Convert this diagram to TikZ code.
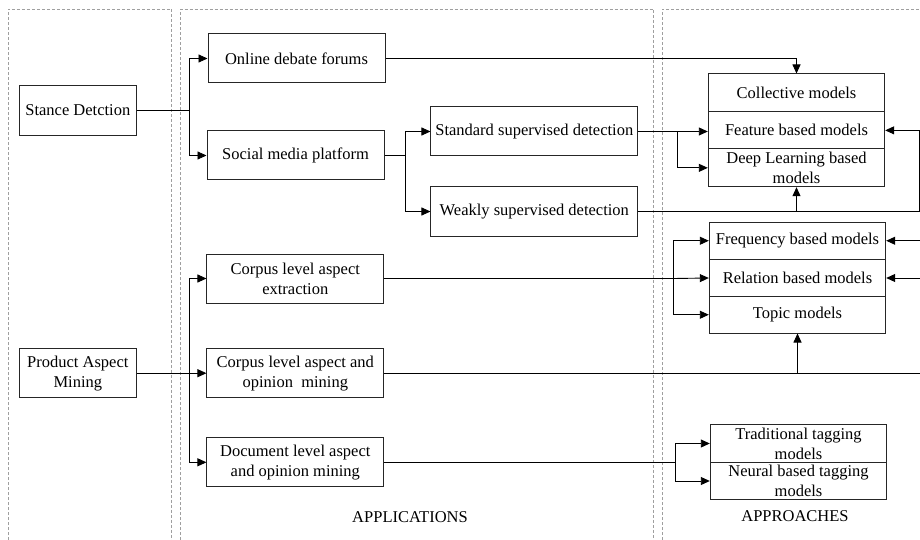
\documentclass[tikz,border=0pt]{standalone}
\usepackage{fontspec}
\setmainfont{Liberation Serif}
\usetikzlibrary{arrows.meta}

\begin{document}
\begin{tikzpicture}[x=1pt,y=-1pt,
  every node/.style={font=\fontsize{16.5}{19.8}\selectfont},
  box/.style={draw=black!85,line width=1pt,rectangle,inner sep=0pt,align=center},
  conn/.style={draw=black,line width=0.9pt},
  arr/.style={conn,-{Triangle[length=9pt,width=8pt]}},
  panel/.style={draw=gray!75,line width=0.8pt,dash pattern=on 3pt off 2pt},
  caption/.style={inner sep=0pt}]

\useasboundingbox (0,0) rectangle (920,540);

% column frames
\draw[panel] (8,540) -- (8,9) -- (171.5,9) -- (171.5,540);
\draw[panel] (180.5,540) -- (180.5,9) -- (653.7,9) -- (653.7,540);
\draw[panel] (662.3,540) -- (662.3,9) -- (920,9);

% tasks
\node[box,minimum width=117.5,minimum height=49.3] (sd) at (77.8,110.4) {Stance Detction};
\node[box,minimum width=117.5,minimum height=49] (pam) at (77.8,373.2) {Product Aspect\\Mining};

% applications
\node[box,minimum width=177,minimum height=49] (odf) at (296.5,58.5) {Online debate forums};
\node[box,minimum width=177,minimum height=49] (smp) at (295.5,155.5) {Social media platform};
\node[box,minimum width=206.7,minimum height=49] (ssd) at (534.3,131.5) {Standard supervised detection};
\node[box,minimum width=206.7,minimum height=49] (wsd) at (534.3,211.5) {Weakly supervised detection};
\node[box,minimum width=176.7,minimum height=49] (clae) at (295.3,278.5) {Corpus level aspect\\extraction};
\node[box,minimum width=176.7,minimum height=49] (claom) at (295.3,373.2) {Corpus level aspect and\\opinion\ \ mining};
\node[box,minimum width=176.7,minimum height=49.3] (dlaom) at (295.3,462.3) {Document level aspect\\and opinion mining};

% approaches
\node[box,minimum width=176.4,minimum height=37.7] (coll) at (796.5,92.85) {Collective models};
\node[box,minimum width=176.4,minimum height=37.3] (feat) at (796.5,130.35) {Feature based models};
\node[box,minimum width=176.4,minimum height=37.7] (deep) at (796.5,167.85) {Deep Learning based\\models};
\node[box,minimum width=176.4,minimum height=37.5] (freq) at (797.5,240.75) {Frequency based models};
\node[box,minimum width=176.4,minimum height=37] (rel) at (797.5,278) {Relation based models};
\node[box,minimum width=176.4,minimum height=36.5] (topic) at (797.5,314.75) {Topic models};
\node[box,minimum width=176.4,minimum height=37.6] (trad) at (798.5,443.5) {Traditional tagging\\models};
\node[box,minimum width=176.4,minimum height=37.4] (neur) at (798.5,481) {Neural based tagging\\models};

% column captions
\node[caption] (appl) at (410,516.7) {APPLICATIONS};
\node[caption] (appr) at (795,516.5) {APPROACHES};

% branch points and free ends
\coordinate (b1) at (189,110.4);
\coordinate (b2) at (405,155.5);
\coordinate (b3) at (677.7,131.5);
\coordinate (b4) at (673.7,278.5);
\coordinate (b5) at (675,462.3);
\coordinate (b6) at (189,373.2);
\coordinate (r1) at (919.3,211.5);
\coordinate (r2) at (920,373.2);
\coordinate (r3) at (920,240.75);
\coordinate (r4) at (920,278);

% stance detection
\draw[conn] (sd.east) -- (b1);
\draw[arr] (b1) |- (odf.west);
\draw[arr] (b1) |- (smp.west);
\draw[conn] (smp.east) -- (b2);
\draw[arr] (b2) |- (ssd.west);
\draw[arr] (b2) |- (wsd.west);
\draw[arr] (odf.east) -| (coll.north);
\draw[conn] (ssd.east) -- (b3);
\draw[arr] (b3) -- (b3 -| feat.west);
\draw[arr] (b3) |- (deep.west);
\draw[conn] (wsd.east) -- (r1);
\draw[arr] (wsd.east -| deep.south) -- (deep.south);
\draw[arr] (r1) |- (feat.east);

% product aspect mining
\draw[conn] (pam.east) -- (b6);
\draw[arr] (b6) -- (claom.west);
\draw[arr] (b6) |- (clae.west);
\draw[arr] (b6) |- (dlaom.west);
\draw[conn] (clae.east) -- (b4);
\draw[arr] (b4) -- (rel.west);
\draw[arr] (b4) |- (freq.west);
\draw[arr] (b4) |- (topic.west);
\draw[conn] (claom.east) -- (r2);
\draw[arr] (claom.east -| topic.south) -- (topic.south);
\draw[arr] (r3) -- (freq.east);
\draw[arr] (r4) -- (rel.east);
\draw[conn] (dlaom.east) -- (b5);
\draw[arr] (b5) |- (trad.west);
\draw[arr] (b5) |- (neur.west);
\end{tikzpicture}
\end{document}
